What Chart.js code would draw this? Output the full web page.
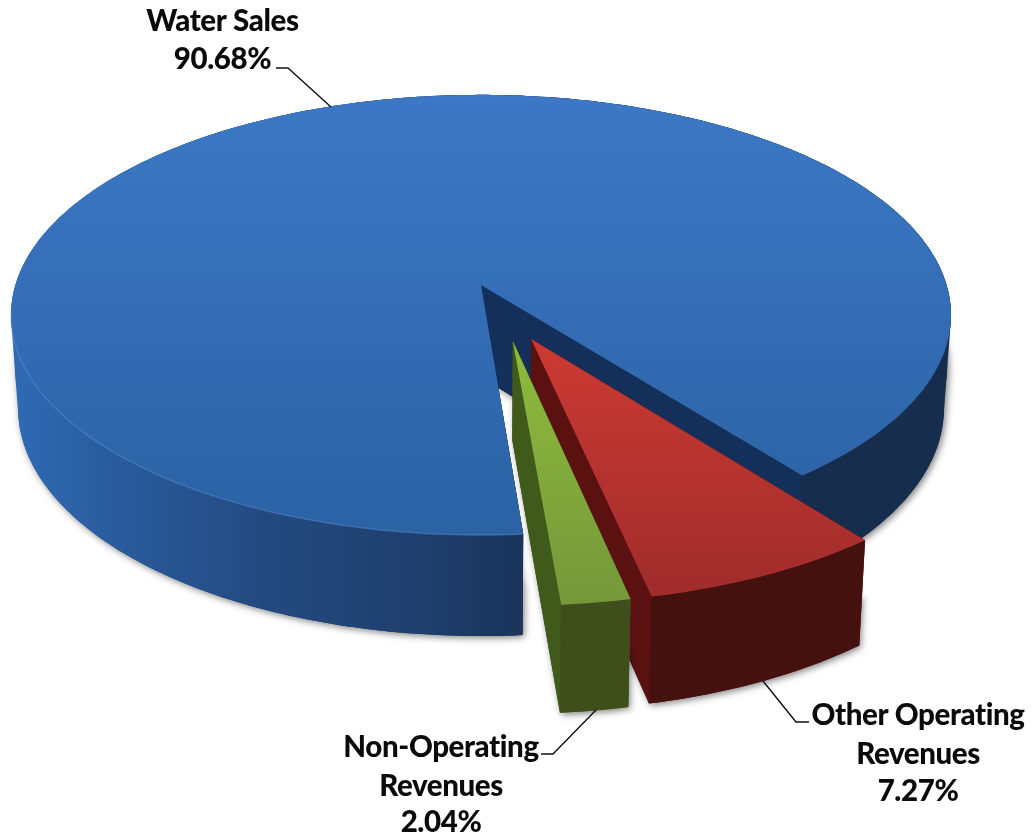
<!DOCTYPE html>
<html><head><meta charset="utf-8">
<style>html,body{margin:0;padding:0;background:#fff}canvas{display:block}</style>
<script src="https://cdn.jsdelivr.net/npm/chart.js@4"></script></head>
<body><canvas id="c" width="1034" height="837"></canvas>
<script>
const categories = ['Water Sales', 'Other Operating Revenues', 'Non-Operating Revenues'];
const shares = [90.68, 7.27, 2.04];
const shareLabels = ['90.68%', '7.27%', '2.04%'];

const view = {cx: 481, cy: 285, R: 465.6, a: 216, c: 0.136, depth: 92, depthV: 9, shrink: 0.985};
const explode = [[0, 0], [0.104, 0.242], [0.066, 0.25]];
const sliceScale = [1, 0.985, 0.985];
const extraDepth = [0, 4, 5];
const topFill = [['#3c78c5', '#2b62a4', 95, 535], ['#cc3a33', '#9f2c2b', 339, 600], ['#8fbc3c', '#75973a', 341, 605]];
const wallFill = ['#193459', '#45110f', '#3f4f1b'];
const innerFill = ['#14305a', '#5a1110', '#3f5a1a'];

function project(u, v, s, i) {
  const k = 1 - view.c * v;
  let x = view.cx + view.R * u / k;
  let y = view.cy + view.a * v / k;
  x = view.cx + (x - view.cx) * (1 - (1 - view.shrink) * s);
  y += (view.depth + extraDepth[i] + view.depthV * v) * s;
  return [x, y];
}
function rimPoints(el, i, s, rev) {
  const pts = [];
  const a0 = el.startAngle + Math.PI / 2, a1 = el.endAngle + Math.PI / 2;
  const n = Math.max(8, Math.ceil((a1 - a0) * 60));
  for (let k = 0; k <= n; k++) {
    const t = a0 + (a1 - a0) * (rev ? n - k : k) / n;
    pts.push(project(Math.sin(t) * sliceScale[i] + explode[i][0], -Math.cos(t) * sliceScale[i] + explode[i][1], s, i));
  }
  return pts;
}
function addPoly(ctx, pts) {
  pts.forEach((p, j) => j ? ctx.lineTo(p[0], p[1]) : ctx.moveTo(p[0], p[1]));
  ctx.closePath();
}
function poly(ctx, pts) { ctx.beginPath(); addPoly(ctx, pts); }
function solid(ctx, el, i, s0, s1) {
  ctx.beginPath();
  for (let q = 0; q <= 24; q++) {
    const s = s0 + (s1 - s0) * q / 24;
    addPoly(ctx, [project(explode[i][0], explode[i][1], s, i)].concat(rimPoints(el, i, s, false)));
  }
  ctx.fill();
}
function outerWallStyle(ctx, i) {
  if (i !== 0) return wallFill[i];
  const g = ctx.createLinearGradient(10, 0, 950, 0);
  g.addColorStop(0, '#2f6bb5');
  g.addColorStop(0.1, '#2a5d9f');
  g.addColorStop(0.27, '#234a80');
  g.addColorStop(0.42, '#1f406f');
  g.addColorStop(0.55, '#1a345a');
  g.addColorStop(0.85, '#172d4d');
  g.addColorStop(1, '#172d4d');
  return g;
}

const pie3d = {
  id: 'pie3d',
  beforeDatasetsDraw(chart) {
    const ctx = chart.ctx, els = chart.getDatasetMeta(0).data;
    els.forEach((el, i) => {
      const wall = outerWallStyle(ctx, i);
      const top = rimPoints(el, i, 0, false);
      const bottomRev = rimPoints(el, i, 1, true);
      const apexTop = project(explode[i][0], explode[i][1], 0, i);
      const apexDown = project(explode[i][0], explode[i][1], 1, i);
      // extruded body: lower half throws the soft shadow
      ctx.save();
      ctx.shadowColor = 'rgba(0,0,0,0.5)';
      ctx.shadowBlur = 7;
      ctx.shadowOffsetX = 2;
      ctx.shadowOffsetY = 2;
      ctx.fillStyle = wall;
      solid(ctx, el, i, 0.55, 1);
      ctx.restore();
      ctx.fillStyle = wall;
      solid(ctx, el, i, 0, 0.55);
      // cut faces running back to the slice's tip
      ctx.fillStyle = innerFill[i];
      poly(ctx, [apexTop, apexDown, bottomRev[0], top[top.length - 1]]);
      ctx.fill();
      poly(ctx, [apexTop, apexDown, bottomRev[bottomRev.length - 1], top[0]]);
      ctx.fill();
      // outer wall in front of the cut faces
      ctx.fillStyle = wall;
      poly(ctx, top.concat(bottomRev));
      ctx.fill();
      // top face
      const f = topFill[i];
      const g = ctx.createLinearGradient(0, f[2], 0, f[3]);
      g.addColorStop(0, f[0]);
      g.addColorStop(1, f[1]);
      ctx.fillStyle = g;
      poly(ctx, [apexTop].concat(top));
      ctx.fill();
      // soft bevel along the near-left rim of the largest slice
      if (i === 0) {
        ctx.strokeStyle = 'rgba(95,150,220,0.4)';
        ctx.lineWidth = 1.5;
        ctx.beginPath();
        const near = top.slice(0, Math.round(top.length * 0.27));
        near.forEach((p, j) => j ? ctx.lineTo(p[0], p[1]) : ctx.moveTo(p[0], p[1]));
        ctx.stroke();
      }
    });
    return false;
  },
  afterDraw(chart) {
    const ctx = chart.ctx;
    ctx.save();
    ctx.strokeStyle = '#111';
    ctx.lineWidth = 1.4;
    [[[276, 68], [288, 68], [331, 107]],
     [[763, 681], [796, 722], [809, 722]],
     [[596, 710], [553, 754], [541, 754]]].forEach(l => {
      ctx.beginPath();
      l.forEach((p, j) => j ? ctx.lineTo(p[0], p[1]) : ctx.moveTo(p[0], p[1]));
      ctx.stroke();
    });
    ctx.fillStyle = '#0a0a0a';
    ctx.font = '900 29.5px Lato, "Noto Sans", sans-serif';
    ctx.letterSpacing = '-0.4px';
    ctx.textAlign = 'center';
    ctx.textBaseline = 'alphabetic';
    const put = (t, x, y) => ctx.fillText(t, x, y);
    put(categories[0], 222.5, 31);
    put(shareLabels[0], 222.5, 69);
    put('Other Operating', 918, 725);
    put('Revenues', 918, 764);
    put(shareLabels[1], 918, 801);
    put('Non-Operating', 441, 757);
    put('Revenues', 441, 796);
    put(shareLabels[2], 441, 832);
    ctx.restore();
  }
};

new Chart(document.getElementById('c'), {
  type: 'pie',
  data: {labels: categories, datasets: [{data: shares, backgroundColor: ['#3a74bd', '#b5332f', '#84a93a'], borderWidth: 0}]},
  options: {
    responsive: false, animation: false, rotation: 175.5,
    plugins: {legend: {display: false}, tooltip: {enabled: false}}
  },
  plugins: [pie3d]
});
</script></body></html>
